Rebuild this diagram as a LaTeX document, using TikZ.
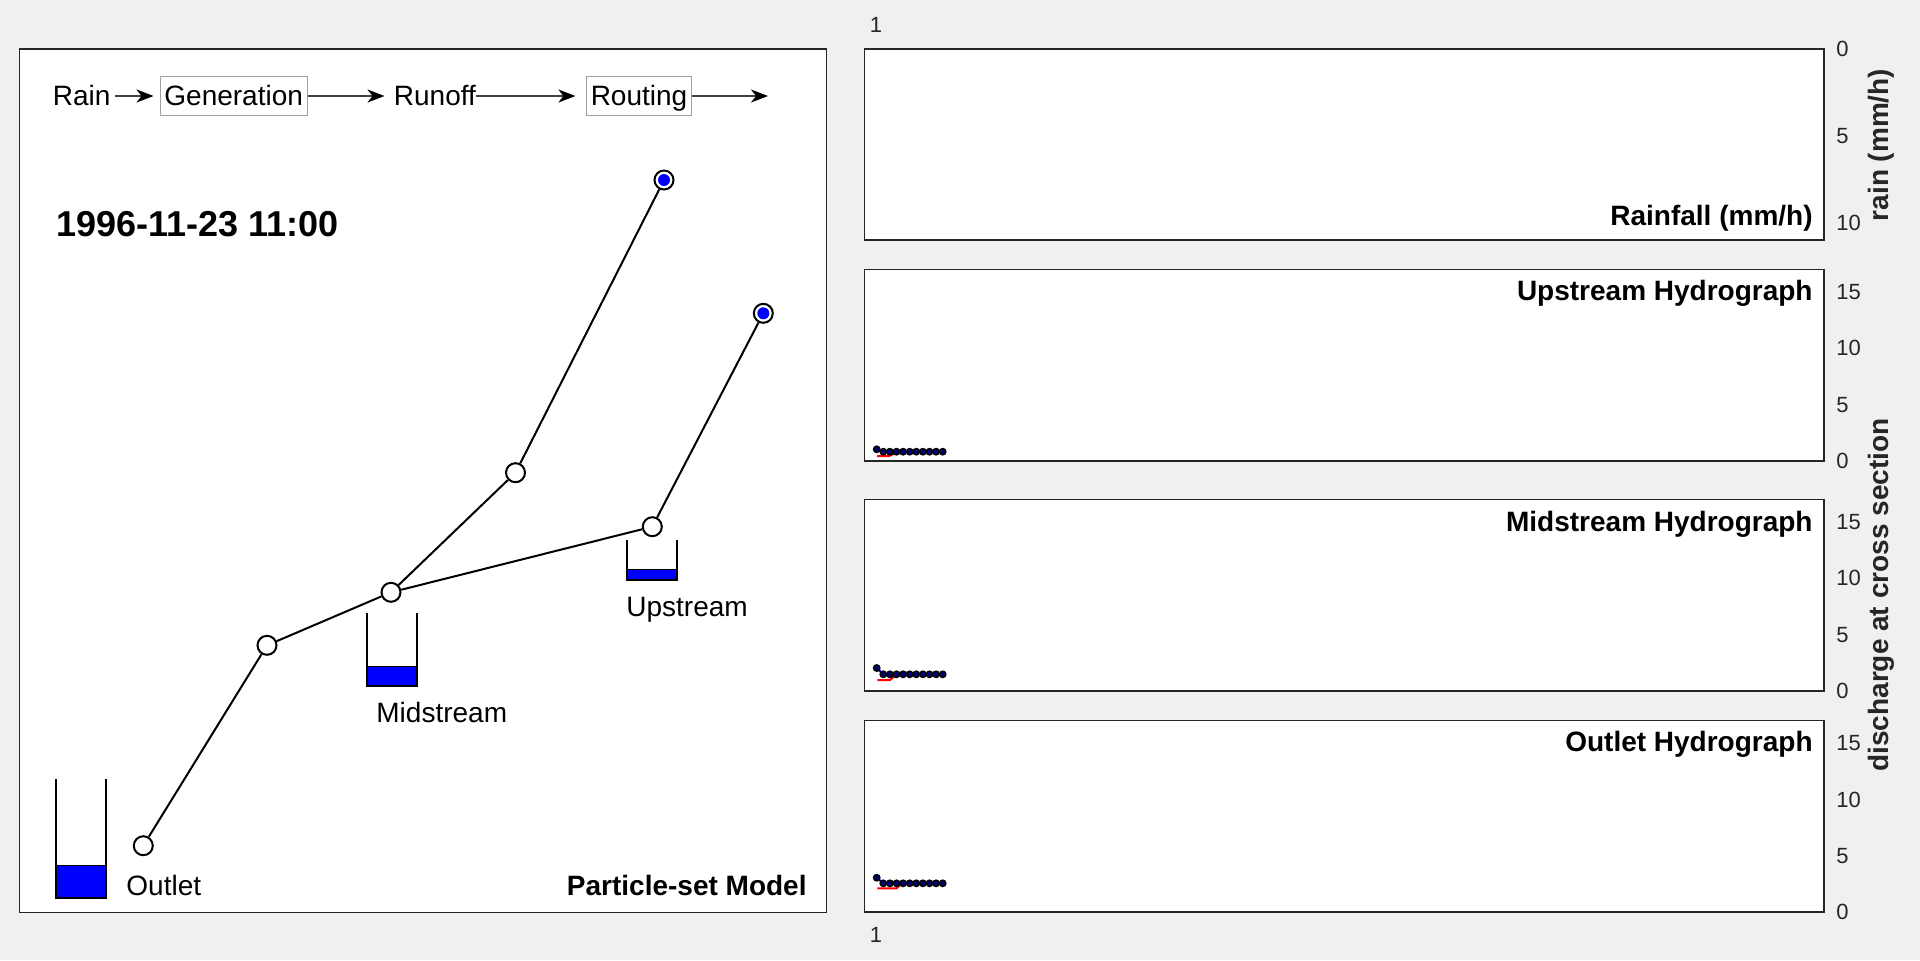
\documentclass[tikz,border=0pt]{standalone}
\usepackage{fontspec}
\setmainfont{Liberation Sans}
\usetikzlibrary{arrows.meta}
\definecolor{bg}{HTML}{F0F0F0}
\definecolor{axisgray}{HTML}{262626}
\definecolor{boxgray}{HTML}{A0A0A0}
\definecolor{flowgray}{HTML}{404040}
\begin{document}
\begin{tikzpicture}[x=0.5pt,y=-0.5pt,
  lab/.style={font=\fontsize{14}{16}\selectfont, inner sep=0},
  boldlab/.style={font=\bfseries\fontsize{14}{16}\selectfont, inner sep=0},
  datelab/.style={font=\bfseries\fontsize{18}{20}\selectfont, inner sep=0},
  ticklab/.style={font=\fontsize{11}{13}\selectfont, text=axisgray, inner sep=0},
  flowtext/.style={font=\fontsize{14}{16}\selectfont, inner sep=0, text height=10pt, text depth=1pt},
  flowbox/.style={flowtext, draw=boxgray, line width=0.5pt, minimum height=19.5pt},
  flowarrow/.style={draw=flowgray, line width=0.6pt, -{Stealth[length=8.5pt,width=6.5pt,inset=2.5pt,color=black]}},
  panel/.style={draw=axisgray, line width=0.75pt, fill=white},
  netnode/.style={circle, draw=black, fill=white, line width=1pt, minimum size=9.5pt, inner sep=0},
  bluenode/.style={netnode, path picture={\fill[blue] (path picture bounding box.center) circle (3pt);}},
  netline/.style={draw=black, line width=1pt},
  bucket/.style={draw=black, line width=1pt},
  water/.style={fill=blue, draw=black, line width=0.4pt},
  dot/.style={draw=black, fill=blue!45!black, line width=0.7pt},
  simline/.style={draw=blue, line width=1pt},
  obsline/.style={draw=red, line width=1pt}
]
\useasboundingbox (0,0) rectangle (1920,960);
\fill[bg] (0,0) rectangle (1920,960);

% ---------- left panel ----------
\draw[panel] (19.7,49) rectangle (826.5,912.3);

% flow chain
\node[flowtext] (rain) at (81.7,96) {Rain};
\node[flowbox, minimum width=73.7pt] (gen) at (233.7,96) {Generation};
\node[flowtext] (runoff) at (434.9,96) {Runoff};
\node[flowbox, minimum width=52.5pt] (rout) at (639,96) {Routing};
\coordinate (flowend) at (768,96);
\draw[flowarrow, shorten <=2pt, shorten >=3pt] (rain) -- (gen);
\draw[flowarrow, shorten >=4.5pt] (gen) -- (runoff);
\draw[flowarrow, shorten >=5.3pt] (runoff) -- (rout);
\draw[flowarrow] (rout) -- (flowend);

% date
\node[datelab, anchor=base west] (date) at (56,236.7) {1996-11-23 11:00};

% network
\node[netnode] (n1) at (143.3,845.7) {};
\node[netnode] (n2) at (267,645.3) {};
\node[netnode] (n3) at (391,592.3) {};
\node[netnode] (n4) at (515.5,472.7) {};
\node[bluenode] (n5) at (664,180) {};
\node[netnode] (n6) at (652.3,526.7) {};
\node[bluenode] (n7) at (763.3,313.3) {};
\draw[netline] (n1) -- (n2);
\draw[netline] (n2) -- (n3);
\draw[netline] (n3) -- (n4);
\draw[netline] (n4) -- (n5);
\draw[netline] (n3) -- (n6);
\draw[netline] (n6) -- (n7);

% buckets
\draw[water] (55.7,865.7) rectangle (106,898);
\draw[bucket] (55.7,779) -- (55.7,898) -- (106,898) -- (106,779);
\draw[water] (366.7,666) rectangle (416.7,686);
\draw[bucket] (366.7,612.7) -- (366.7,686) -- (416.7,686) -- (416.7,612.7);
\draw[water] (627.3,569) rectangle (677.3,580);
\draw[bucket] (627.3,540) -- (627.3,580) -- (677.3,580) -- (677.3,540);

\node[lab, anchor=base west] (lout) at (126,895.7) {Outlet};
\node[lab, anchor=base west] (lmid) at (376,722.7) {Midstream};
\node[lab, anchor=base west] (lup) at (626,616) {Upstream};
\node[boldlab, anchor=base east] (model) at (807,895.7) {Particle-set Model};

% ---------- right panels ----------
\draw[panel] (864.3,49) rectangle (1824,240);
\draw[panel] (864.3,269.3) rectangle (1824,461);
\draw[panel] (864.3,499.6) rectangle (1824,690.8);
\draw[panel] (864.3,720.7) rectangle (1824,912);

\node[boldlab, anchor=base east] (train) at (1813,225) {Rainfall (mm/h)};
\node[boldlab, anchor=base east] (tup) at (1813,300.7) {Upstream Hydrograph};
\node[boldlab, anchor=base east] (tmid) at (1813,531.3) {Midstream Hydrograph};
\node[boldlab, anchor=base east] (tout) at (1813,751.7) {Outlet Hydrograph};

% x labels
\node[ticklab] (xtop) at (876,25) {1};
\node[ticklab] (xbot) at (876,935) {1};

% y tick labels
\node[ticklab, anchor=west] at (1836,49) {0};
\node[ticklab, anchor=west] at (1836,135.8) {5};
\node[ticklab, anchor=west] at (1836,222.6) {10};

\node[ticklab, anchor=west] at (1836,291.9) {15};
\node[ticklab, anchor=west] at (1836,348.2) {10};
\node[ticklab, anchor=west] at (1836,404.6) {5};
\node[ticklab, anchor=west] at (1836,461) {0};

\node[ticklab, anchor=west] at (1836,522.1) {15};
\node[ticklab, anchor=west] at (1836,578.3) {10};
\node[ticklab, anchor=west] at (1836,634.6) {5};
\node[ticklab, anchor=west] at (1836,690.8) {0};

\node[ticklab, anchor=west] at (1836,743.2) {15};
\node[ticklab, anchor=west] at (1836,799.5) {10};
\node[ticklab, anchor=west] at (1836,855.7) {5};
\node[ticklab, anchor=west] at (1836,912) {0};

% axis titles
\node[boldlab, text=axisgray, rotate=90] (yrain) at (1881,145) {rain (mm/h)};
\node[boldlab, text=axisgray, rotate=90] (yq) at (1881.5,595) {discharge at cross section};

% hydrograph data: upstream
\draw[obsline] (877,456) -- (889,456) -- (897,452.5);
\draw[simline] (876.7,449.3) -- (883.3,451.7) -- (942.7,451.7);
\draw[dot] (876.7,449.3) circle (1.6pt);
\foreach \i in {1,...,10} \draw[dot] ({876.7+6.6*\i},451.7) circle (1.6pt);

% midstream
\draw[obsline] (877.3,680) -- (890,680) -- (896.7,674.3) -- (906.7,672.7);
\draw[simline] (876.7,668) -- (883.3,674.3) -- (942.7,674.3);
\draw[dot] (876.7,668) circle (1.6pt);
\foreach \i in {1,...,10} \draw[dot] ({876.7+6.6*\i},674.3) circle (1.6pt);

% outlet
\draw[obsline] (877.3,888.3) -- (896.7,888.3) -- (901.7,883.3);
\draw[simline] (876.7,877.7) -- (883.3,883.3) -- (942.7,883.3);
\draw[dot] (876.7,877.7) circle (1.6pt);
\foreach \i in {1,...,10} \draw[dot] ({876.7+6.6*\i},883.3) circle (1.6pt);
\end{tikzpicture}
\end{document}
